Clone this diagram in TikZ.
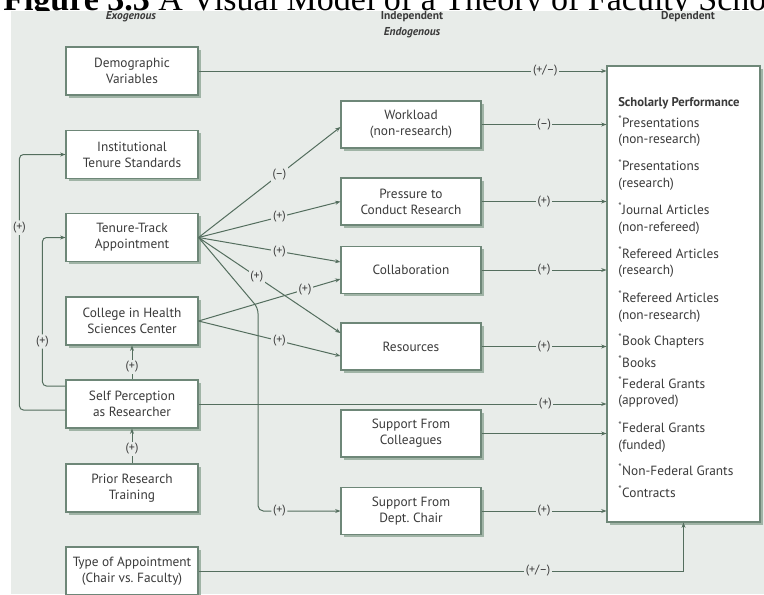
\documentclass[tikz,border=0pt]{standalone}
\usepackage{fontspec}
\setmainfont{PT Sans}
\newfontfamily\titlefont{Liberation Serif}
\usepackage{tikz}
\usetikzlibrary{calc}
\usetikzlibrary{arrows.meta}
\usetikzlibrary{shadows}
\definecolor{figbg}{RGB}{232,236,233}
\definecolor{figline}{RGB}{84,110,94}
\definecolor{figframe}{RGB}{110,135,120}
\definecolor{figshadow}{RGB}{160,180,166}
\definecolor{figtext}{RGB}{58,58,58}
\def\pxunit{0.75pt}
\newcommand\itemstar{\textsuperscript{*}}
\tikzset{varbox/.style={draw=figframe, line width=0.8pt, fill=white,
    text=figtext, align=center, inner sep=0pt,
    font=\fontsize{10}{12}\selectfont,
    minimum width=132*\pxunit, minimum height=48*\pxunit,
    general shadow={shadow xshift=2pt, shadow yshift=-2pt, fill=figshadow}}
}
\tikzset{midbox/.style={varbox, minimum width=140*\pxunit, minimum height=47*\pxunit}}
\tikzset{link/.style={draw=figline, line width=0.75pt, -{Stealth[length=4pt,width=3pt]}}}
\tikzset{sign/.style={fill=figbg, text=figtext, inner sep=1.2pt,
    font=\fontsize{9}{10}\selectfont}}
\tikzset{header/.style={text=figtext, inner sep=0pt,
    font=\bfseries\fontsize{8.6}{10}\selectfont}}

\begin{document}
\begin{tikzpicture}[x=\pxunit, y=-\pxunit]
\useasboundingbox (0,0) rectangle (764,594);

\node (title) [anchor=base west, inner sep=0pt, font=\titlefont\fontsize{25.5}{28}\selectfont]
  at (3,10) {\textbf{Figure 3.3} A Visual Model of a Theory of Faculty Scholarly Performance};
\fill [figbg] (11,11) rectangle (764,594);

\node (exo) [header, font=\bfseries\itshape\fontsize{8.6}{10}\selectfont] at (131,17) {Exogenous};
\node (indep) [header] at (412,17) {Independent};
\node (endo) [header, font=\bfseries\itshape\fontsize{8.6}{10}\selectfont] at (412,32.5) {Endogenous};
\node (dep) [header] at (688,17) {Dependent};

\node (demo) [varbox] at (132,71) {Demographic\\Variables};
\node (inst) [varbox] at (132,154.5) {Institutional\\Tenure Standards};
\node (tenure) [varbox] at (132,237.5) {Tenure-Track\\Appointment};
\node (college) [varbox] at (132,321) {College in Health\\Sciences Center};
\node (self) [varbox] at (132,404) {Self Perception\\as Researcher};
\node (prior) [varbox] at (132,488) {Prior Research\\Training};
\node (type) [varbox] at (132,571) {Type of Appointment\\(Chair vs.\ Faculty)};

\node (work) [midbox] at (411,124.5) {Workload\\(non-research)};
\node (press) [midbox] at (411,201.5) {Pressure to\\Conduct Research};
\node (collab) [midbox] at (411,270) {Collaboration};
\node (res) [midbox] at (411,346.5) {Resources};
\node (peers) [midbox] at (411,433.5) {Support From\\Colleagues};
\node (chair) [midbox] at (411,511) {Support From\\Dept.\ Chair};

\node (perf) [varbox, minimum width=153*\pxunit, minimum height=456*\pxunit] at (683.5,294) {};
\node (perflist) [anchor=north west, align=left, inner sep=0pt, text=figtext,
  font=\fontsize{10}{12.4}\selectfont] at (618,97) {%
  \textbf{\fontsize{9.5}{12.4}\selectfont Scholarly Performance}\\[3.4pt]
  \itemstar Presentations\\(non-research)\\[7.9pt]
  \itemstar Presentations\\(research)\\[7.9pt]
  \itemstar Journal Articles\\(non-refereed)\\[7.9pt]
  \itemstar Refereed Articles\\(research)\\[8.6pt]
  \itemstar Refereed Articles\\(non-research)\\[7.1pt]
  \itemstar Book Chapters\\[4.1pt]
  \itemstar Books\\[3.4pt]
  \itemstar Federal Grants\\(approved)\\[8.6pt]
  \itemstar Federal Grants\\(funded)\\[7.1pt]
  \itemstar Non-Federal Grants\\[4.1pt]
  \itemstar Contracts};

\draw [link] (demo) -- node[sign, pos=0.85] {(+/--)} (demo -| perf.west);
\draw [link] (work) -- node[sign] {(--)} (work -| perf.west);
\draw [link] (press) -- node[sign] {(+)} (press -| perf.west);
\draw [link] (collab) -- node[sign] {(+)} (collab -| perf.west);
\draw [link] (res) -- node[sign] {(+)} (res -| perf.west);
\draw [link] (self) -- node[sign, pos=0.85] {(+)} (self -| perf.west);
\draw [link] (peers) -- (peers -| perf.west);
\draw [link] (chair) -- node[sign] {(+)} (chair -| perf.west);
\draw [link] (type) -| node[sign, pos=0.35] {(+/--)} (perf.south);

\draw [link, rounded corners=3pt] ($(self.west)+(0,6)$) -- ++(-46,0) |- node[sign, pos=0.357] {(+)} (inst);
\draw [link, rounded corners=3pt] ($(self.west)+(0,-18)$) -- ++(-23,0) |- node[sign, pos=0.15] {(+)} (tenure);
\draw [link] (self) -- node[sign, pos=0.37] {(+)} (college);
\draw [link] (prior) -- node[sign, pos=0.42] {(+)} (self);

\draw [link] (tenure.east) -- node[sign, pos=0.57] {(--)} ($(work.west)+(0,2.5)$);
\draw [link] (tenure.east) -- node[sign, pos=0.57] {(+)} (press.west);
\draw [link] (tenure.east) -- node[sign, pos=0.57] {(+)} ($(collab.west)+(0,-8)$);
\draw [link] (tenure.east) -- node[sign, pos=0.41] {(+)} ($(res.west)+(0,-13.5)$);
\coordinate (drop) at (258,308);
\draw [link, rounded corners=4pt] (tenure.east) -- (drop) |- node[sign, pos=0.63] {(+)} (chair);

\draw [link] (college.east) -- node[sign, pos=0.75] {(+)} ($(collab.west)+(0,9)$);
\draw [link] (college.east) -- node[sign, pos=0.57] {(+)} ($(res.west)+(0,9.5)$);

\end{tikzpicture}
\end{document}
